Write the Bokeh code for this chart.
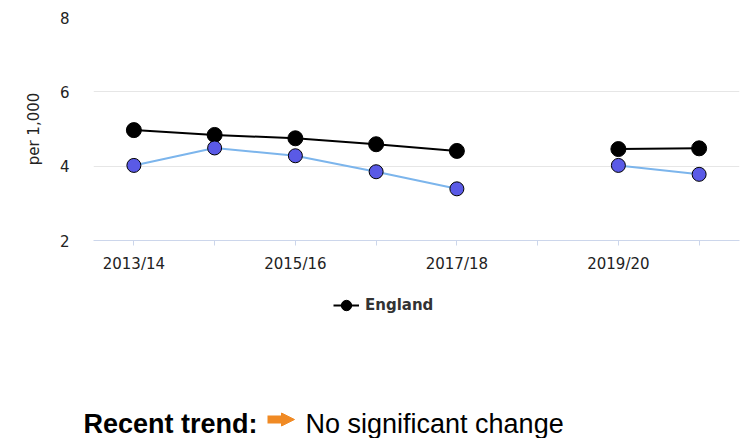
from bokeh.plotting import figure
from bokeh.layouts import column
from bokeh.models import (Range1d, Legend, LegendItem, Label, Arrow,
                          NormalHead, FixedTicker, ColumnDataSource)
from bokeh.embed import file_html
from bokeh.resources import INLINE

years = ["2013/14", "2014/15", "2015/16", "2016/17", "2017/18", "2018/19", "2019/20", "2020/21"]
england = [4.97, 4.84, 4.75, 4.59, 4.41, float("nan"), 4.46, 4.48]
area = [4.02, 4.49, 4.28, 3.85, 3.39, float("nan"), 4.02, 3.78]
shown_labels = ["2013/14", "2015/16", "2017/18", "2019/20"]
y_ticks = [2, 4, 6, 8]
legend_name = "England"
trend_label = "Recent trend:"
trend_text = "No significant change"

xpos = list(range(len(years)))
src = ColumnDataSource(dict(x=xpos, eng=england, area=area))

LEFT, RIGHT = 93, 6
H1 = 275
p = figure(width=745, height=H1, output_backend="svg", toolbar_location=None,
           x_range=Range1d(-0.5, len(years) - 0.5), y_range=Range1d(2, 8),
           min_border_left=LEFT, min_border_right=RIGHT, min_border_top=17,
           min_border_bottom=H1 - 241)
p.outline_line_color = None

p.line("x", "eng", source=src, line_color="black", line_width=2)
p.scatter("x", "eng", source=src, size=15, fill_color="black", line_color="black")
p.line("x", "area", source=src, line_color="#7cb5ec", line_width=2)
p.scatter("x", "area", source=src, size=14, fill_color="#5a5ae6", line_color="black", line_width=1)

# axes
p.yaxis.ticker = FixedTicker(ticks=y_ticks)
p.yaxis.axis_line_color = None
p.yaxis.major_tick_line_color = None
p.yaxis.minor_tick_line_color = None
p.yaxis.major_label_text_font = "DejaVu Sans"
p.yaxis.major_label_text_font_size = "15px"
p.yaxis.major_label_text_color = "#222222"
p.yaxis.major_label_standoff = 18
p.yaxis.axis_label = "per 1,000"
p.yaxis.axis_label_text_font = "DejaVu Sans"
p.yaxis.axis_label_text_font_size = "15px"
p.yaxis.axis_label_text_font_style = "normal"
p.yaxis.axis_label_text_color = "#222222"
p.yaxis.axis_label_standoff = 14

p.xaxis.ticker = FixedTicker(ticks=xpos)
p.xaxis.minor_tick_line_color = None
p.xaxis.axis_line_color = "#ccd6eb"
p.xaxis.major_tick_line_color = "#ccd6eb"
p.xaxis.major_tick_in = 0
p.xaxis.major_tick_out = 5
p.xaxis.major_label_text_font = "DejaVu Sans"
p.xaxis.major_label_text_font_size = "15px"
p.xaxis.major_label_text_color = "#222222"
p.xaxis.major_label_standoff = 9
p.xaxis.major_label_overrides = {i: (y if y in shown_labels else "") for i, y in zip(xpos, years)}

p.xgrid.grid_line_color = None
p.ygrid.grid_line_color = "#e6e6e6"

# lower panel: legend + recent trend (frame spans the full page width)
H2 = 438 - H1
p2 = figure(width=745, height=H2, output_backend="svg", toolbar_location=None,
            x_range=Range1d(0, 745), y_range=Range1d(0, H2),
            min_border_left=0, min_border_right=0,
            min_border_top=0, min_border_bottom=0,
            x_axis_type=None, y_axis_type=None)
p2.frame_align = False
p2.outline_line_color = None
p2.xgrid.grid_line_color = None
p2.ygrid.grid_line_color = None

nan = float("nan")
leg_line = p2.line(x=[nan, nan], y=[nan, nan], line_color="black", line_width=2)
leg_pts = p2.scatter(x=[nan], y=[nan], size=15, fill_color="black", line_color="black")
legend = Legend(items=[LegendItem(label=legend_name, renderers=[leg_line, leg_pts])],
                location=(333, 438 - 318), orientation="horizontal", padding=0, margin=0,
                border_line_color=None, background_fill_alpha=0,
                label_text_font="DejaVu Sans", label_text_font_size="15px",
                label_text_font_style="bold", label_text_color="#333333",
                label_standoff=6, glyph_width=26, glyph_height=26)
p2.add_layout(legend, "center")

p2.add_layout(Label(x=83, y=438 - 432 + 9, text=trend_label,
                    text_font="Liberation Sans", text_font_size="27px", text_font_style="bold",
                    text_color="black", text_baseline="alphabetic"))
p2.add_layout(Arrow(x_start=267, y_start=438 - 419, x_end=294, y_end=438 - 419,
                    line_color="#f08a24", line_width=8,
                    end=NormalHead(size=13, fill_color="#f08a24", line_color="#f08a24", line_width=1)))
p2.add_layout(Label(x=305, y=438 - 432 + 9, text=trend_text,
                    text_font="Liberation Sans", text_font_size="27px", text_font_style="normal",
                    text_color="black", text_baseline="alphabetic"))

layout = column(p, p2, spacing=0)
open("out.html", "w").write(file_html(layout, INLINE))
